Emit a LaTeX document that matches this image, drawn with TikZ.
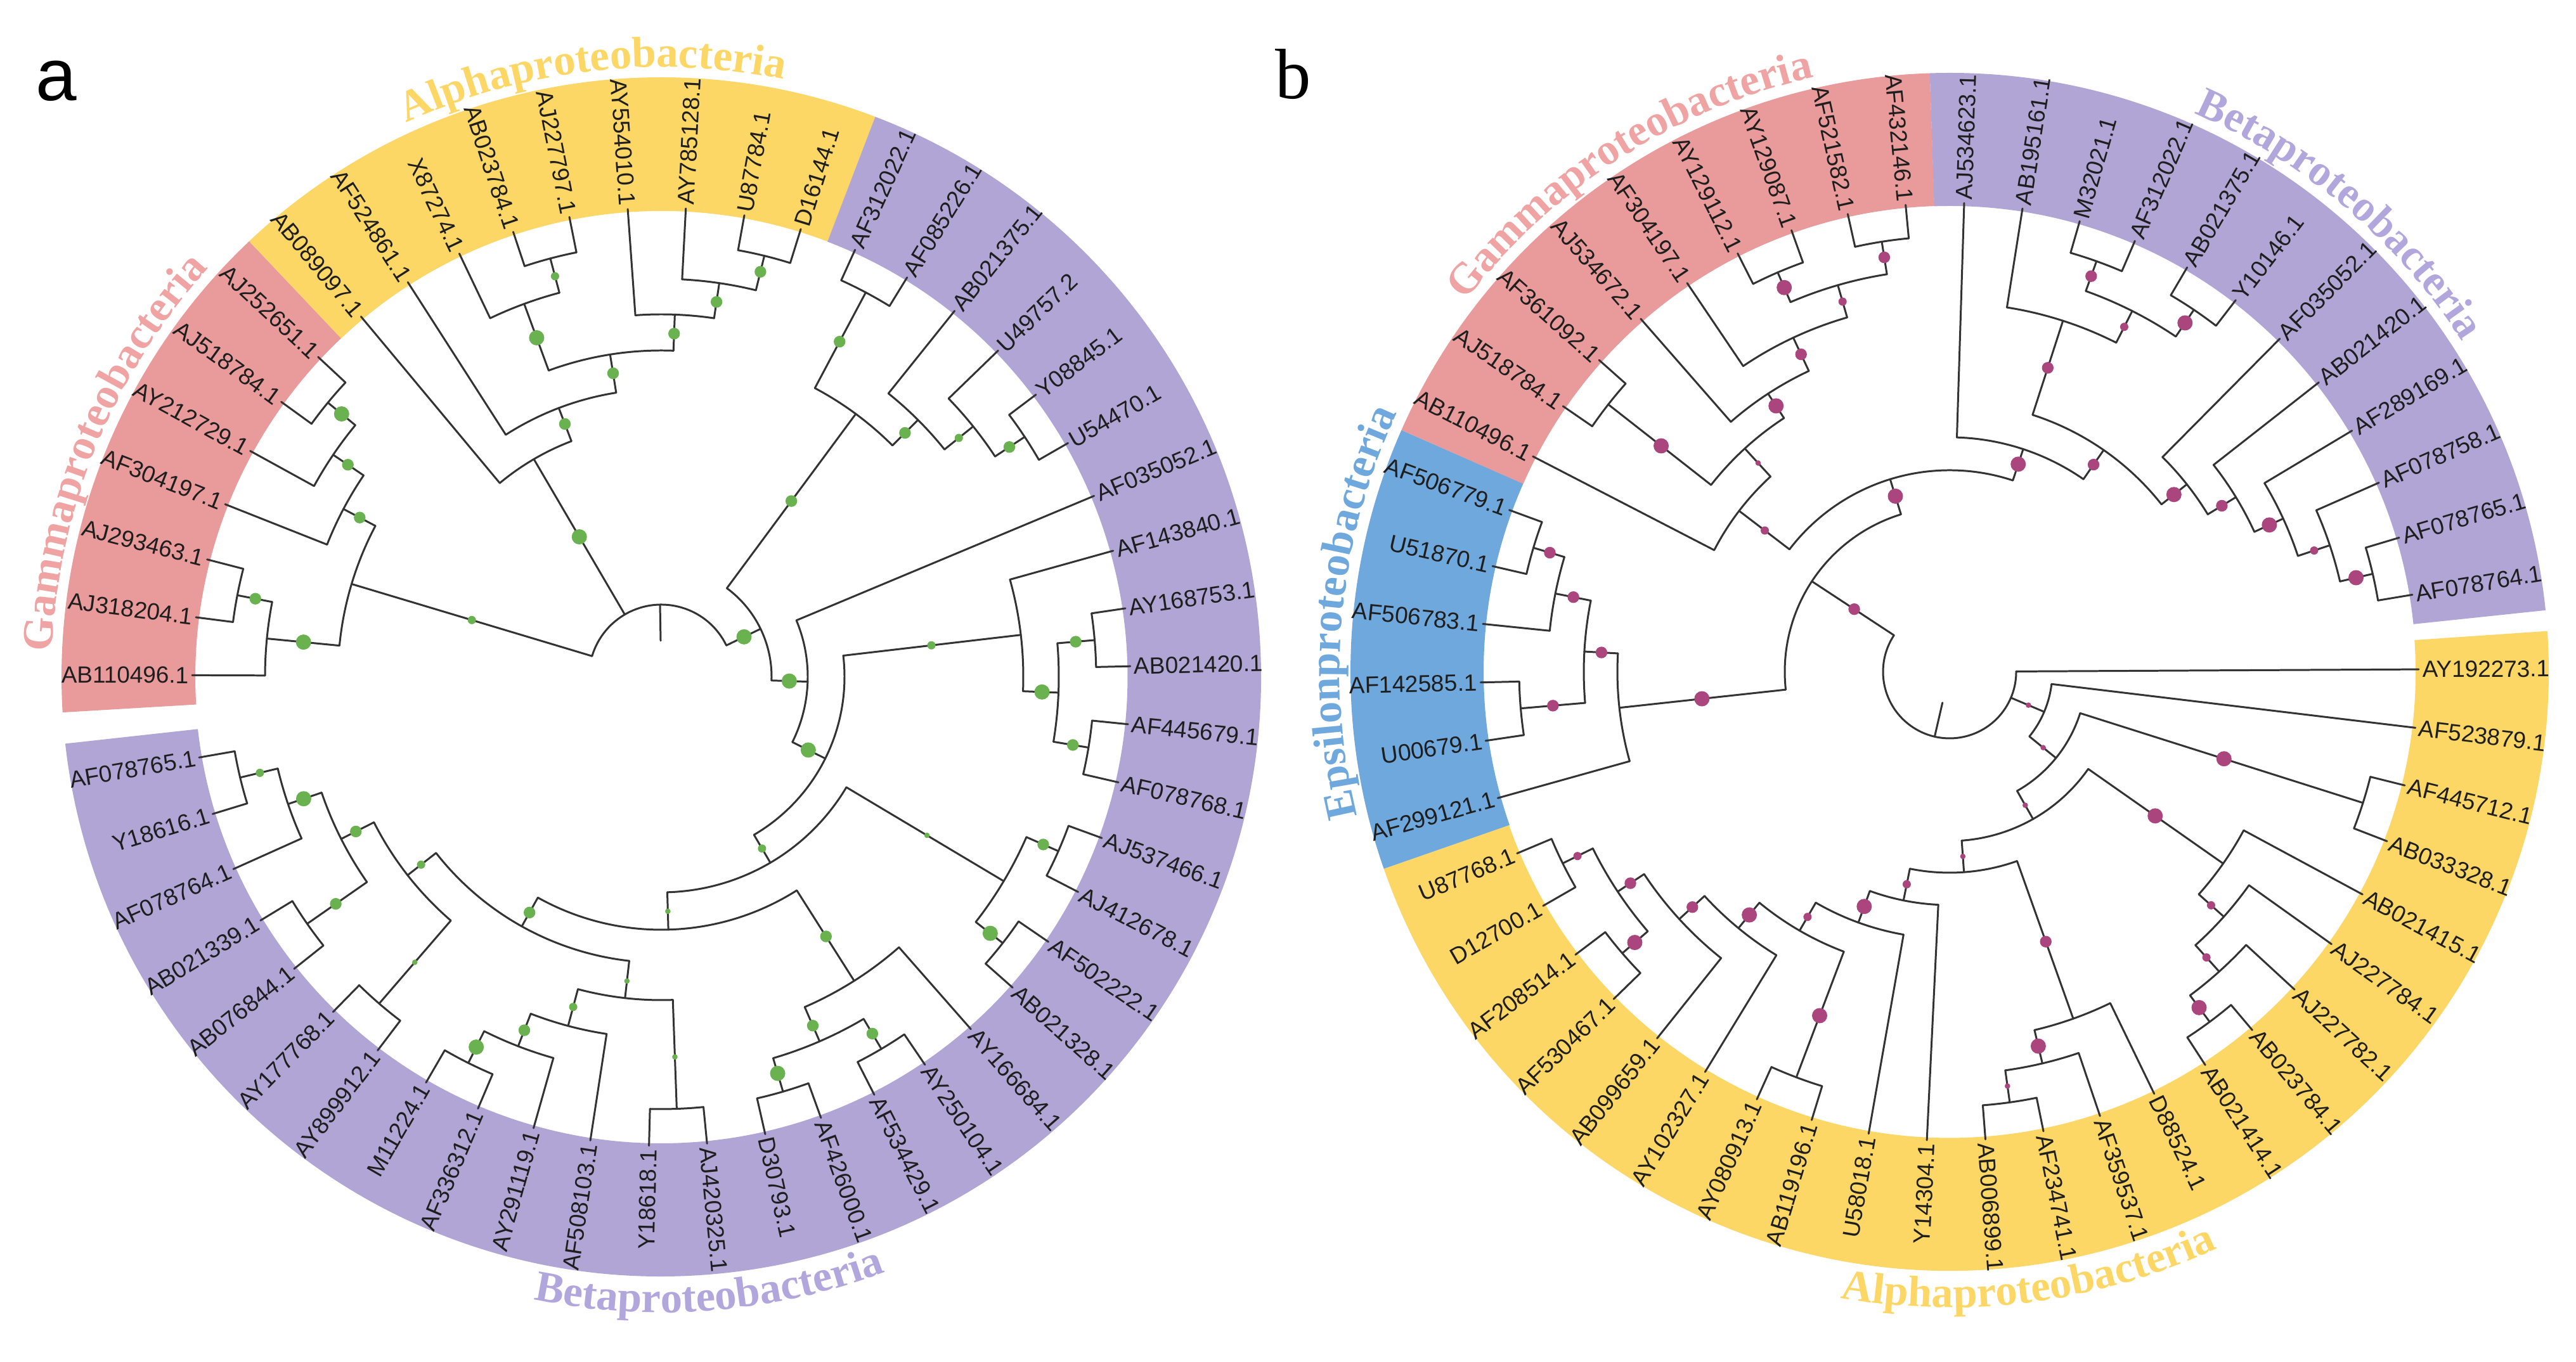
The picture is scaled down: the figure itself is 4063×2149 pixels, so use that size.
\documentclass[tikz,border=0pt]{standalone}
\usepackage{fontspec}
\setmainfont{Liberation Serif}
\setsansfont{Liberation Sans}
\usetikzlibrary{decorations.text}
\definecolor{lineC}{HTML}{333333}
\definecolor{labC}{HTML}{1E1E1E}
\definecolor{pinkB}{HTML}{E99A9A}
\definecolor{yelB}{HTML}{FDD766}
\definecolor{purB}{HTML}{B1A5D6}
\definecolor{bluB}{HTML}{6FA8DC}
\definecolor{pinkT}{HTML}{EFA3A3}
\definecolor{yelT}{HTML}{FDD766}
\definecolor{purT}{HTML}{B2A7DC}
\definecolor{bluT}{HTML}{6FA8DC}
\definecolor{greenD}{HTML}{6AB250}
\definecolor{magD}{HTML}{AA467D}
\colorlet{dotc}{greenD}
\def\dL{12}\def\dM{9.2}\def\dS{6.5}\def\dT{4.3}
\newcommand\tRad[3]{\draw[br] ({#1}:{#2}) -- ({#1}:{#3});}
\newcommand\tArc[3]{\draw[br] ({#2}:{#1}) arc[start angle={#2}, end angle={#3}, radius={#1*0.01cm}];}
\newcommand\tDot[3]{\fill[dotc] ({#1}:{#2}) circle[radius={#3*0.01cm}];}
\newcounter{lc}
\newcommand\tLeaf[3]{%
 \draw[br] ({#1}:{#2}) -- ({#1}:740);%
 \stepcounter{lc}%
 \pgfmathsetmacro\tmpc{cos(#1)}%
 \ifdim\tmpc pt>0pt
  \node[lab,anchor=west,rotate={#1}] (leaf\arabic{lc}) at ({#1}:745) {#3};%
 \else
  \node[lab,anchor=east,rotate={#1+180}] (leaf\arabic{lc}) at ({#1}:745) {#3};%
 \fi}
\newcommand\tBand[4]{\fill[#4] ({#1}:735) arc[start angle={#1}, end angle={#2}, radius=7.35cm] -- ({#2}:{#3}) arc[start angle={#2}, end angle={#1}, radius={#3*0.01cm}] -- cycle;}
\newcommand\cladefont{\fontsize{19.5}{22}\selectfont\bfseries}
\begin{document}
\begin{tikzpicture}[x=0.01cm,y=0.01cm,
  br/.style={draw=lineC,line width=0.85pt,line cap=round},
  lab/.style={font=\sffamily\fontsize{10.5}{12}\selectfont,text=labC,inner sep=0pt}]
\fill[white] (0,0) rectangle (4063,2149);
\useasboundingbox (0,0) rectangle (4063,2149);
\node[font=\sffamily\fontsize{33}{36}\selectfont,inner sep=0pt] (pa) at (89,2021) {a};
\node[font=\rmfamily\fontsize{32}{36}\selectfont,inner sep=0pt] (pb) at (2040,2032) {b};
% ================= TREE A =================
\begin{scope}[shift={(1043,1081)}]
\tBand{183.4}{133.4}{946}{pinkB}
\tBand{133.4}{69.1}{946}{yelB}
\tBand{69.1}{-173.6}{946}{purB}
\path[decorate,decoration={text along path,text align=center,text color=pinkT,text={|\cladefont|Gammaproteobacteria}}] (187.8:962) arc[start angle=187.8,end angle=127.8,radius=9.62cm];
\path[decorate,decoration={text along path,text align=center,text color=yelT,text={|\cladefont|Alphaproteobacteria}}] (126.6:962) arc[start angle=126.6,end angle=66.6,radius=9.62cm];
\path[decorate,decoration={text along path,text align=center,text color=purT,text={|\cladefont|Betaproteobacteria}}] (-120.5:1003) arc[start angle=-120.5,end angle=-50.5,radius=10.03cm];
% root
\tArc{114}{25.82}{163.3}
\tRad{91}{57}{114}
% gamma
\tRad{163.3}{114}{510}
\tArc{510}{152.15}{174.45}
\tRad{174.45}{510}{625}
\tArc{625}{169.1}{179.8}
\tLeaf{179.8}{625}{AB110496.1}
\tRad{169.1}{625}{681}
\tArc{681}{165.5}{172.7}
\tLeaf{172.7}{681}{AJ318204.1}
\tLeaf{165.5}{681}{AJ293463.1}
\tRad{152.15}{510}{567}
\tArc{567}{145.9}{158.4}
\tLeaf{158.4}{567}{AF304197.1}
\tRad{145.9}{567}{625}
\tArc{625}{140.55}{151.2}
\tLeaf{151.2}{625}{AY212729.1}
\tRad{140.55}{625}{681}
\tArc{681}{137.0}{144.1}
\tLeaf{144.1}{681}{AJ518784.1}
\tLeaf{137.0}{681}{AJ252651.1}
% alpha
\tRad{120.33}{114}{398}
\tArc{398}{110.86}{129.8}
\tLeaf{129.8}{398}{AB089097.1}
\tRad{110.86}{398}{454}
\tArc{454}{99.02}{122.7}
\tLeaf{122.7}{454}{AF524861.1}
\tRad{99.02}{454}{515}
\tArc{515}{87.86}{110.175}
\tRad{110.175}{515}{627}
\tArc{627}{104.85}{115.5}
\tLeaf{115.5}{627}{X87274.1}
\tRad{104.85}{627}{683}
\tArc{683}{101.3}{108.4}
\tLeaf{108.4}{683}{AB023784.1}
\tLeaf{101.3}{683}{AJ227797.1}
\tRad{87.86}{515}{572}
\tArc{572}{81.625}{94.1}
\tLeaf{94.1}{572}{AY554010.1}
\tRad{81.625}{572}{628}
\tArc{628}{76.25}{87.0}
\tLeaf{87.0}{628}{AY785128.1}
\tRad{76.25}{628}{684}
\tArc{684}{72.7}{79.8}
\tLeaf{79.8}{684}{U87784.1}
\tLeaf{72.7}{684}{D16144.1}
% beta
\tRad{25.82}{114}{174}
\tArc{174}{-1.885}{53.52}
\tRad{53.52}{174}{516}
\tArc{516}{45.04}{62.0}
\tRad{62.0}{516}{687}
\tArc{687}{58.4}{65.6}
\tLeaf{65.6}{687}{AF312022.1}
\tLeaf{58.4}{687}{AF085226.1}
\tRad{45.04}{516}{573}
\tArc{573}{38.775}{51.3}
\tLeaf{51.3}{573}{AB021375.1}
\tRad{38.775}{573}{631}
\tArc{631}{33.45}{44.1}
\tLeaf{44.1}{631}{U49757.2}
\tRad{33.45}{631}{687}
\tArc{687}{29.9}{37.0}
\tLeaf{37.0}{687}{Y08845.1}
\tLeaf{29.9}{687}{U54470.1}
\tRad{-1.885}{174}{231}
\tArc{231}{-26.47}{22.7}
\tLeaf{22.7}{231}{AF035052.1}
\tRad{-26.47}{231}{289}
\tArc{289}{-59.6}{6.66}
\tRad{6.66}{289}{571}
\tArc{571}{-2.275}{15.6}
\tLeaf{15.6}{571}{AF143840.1}
\tRad{-2.275}{571}{627}
\tArc{627}{-9.4}{4.85}
\tRad{4.85}{627}{686}
\tArc{686}{1.3}{8.4}
\tLeaf{8.4}{686}{AY168753.1}
\tLeaf{1.3}{686}{AB021420.1}
\tRad{-9.4}{627}{683}
\tArc{683}{-13.0}{-5.8}
\tLeaf{-5.8}{683}{AF445679.1}
\tLeaf{-13.0}{683}{AF078768.1}
\tRad{-59.6}{289}{340}
\tArc{340}{-88.4}{-30.825}
\tRad{-30.825}{340}{629}
\tArc{629}{-37.95}{-23.7}
\tRad{-23.7}{629}{684}
\tArc{684}{-27.3}{-20.1}
\tLeaf{-20.1}{684}{AJ537466.1}
\tLeaf{-27.3}{684}{AJ412678.1}
\tRad{-37.95}{629}{683}
\tArc{683}{-41.5}{-34.4}
\tLeaf{-34.4}{683}{AF502222.1}
\tLeaf{-41.5}{683}{AB021328.1}
\tRad{-88.4}{340}{399}
\tArc{399}{-119.2}{-57.61}
\tRad{-57.61}{399}{568}
\tArc{568}{-66.525}{-48.7}
\tLeaf{-48.7}{568}{AY166684.1}
\tRad{-66.525}{568}{627}
\tArc{627}{-73.65}{-59.4}
\tRad{-59.4}{627}{682}
\tArc{682}{-63.0}{-55.8}
\tLeaf{-55.8}{682}{AY250104.1}
\tLeaf{-63.0}{682}{AF534429.1}
\tRad{-73.65}{627}{682}
\tArc{682}{-77.2}{-70.1}
\tLeaf{-70.1}{682}{AF426000.1}
\tLeaf{-77.2}{682}{D30793.1}
\tRad{-119.2}{399}{451}
\tArc{451}{-141.97}{-96.44}
\tRad{-96.44}{451}{510}
\tArc{510}{-104.94}{-87.95}
\tRad{-87.95}{510}{682}
\tArc{682}{-91.5}{-84.4}
\tLeaf{-84.4}{682}{AJ420325.1}
\tLeaf{-91.5}{682}{Y18618.1}
\tRad{-104.94}{510}{570}
\tArc{570}{-111.175}{-98.7}
\tLeaf{-98.7}{570}{AF508103.1}
\tRad{-111.175}{570}{625}
\tArc{625}{-116.55}{-105.8}
\tLeaf{-105.8}{625}{AY291119.1}
\tRad{-116.55}{625}{681}
\tArc{681}{-120.1}{-113.0}
\tLeaf{-113.0}{681}{AF336312.1}
\tLeaf{-120.1}{681}{M11224.1}
\tRad{-141.97}{451}{508}
\tArc{508}{-153.14}{-130.8}
\tRad{-130.8}{508}{681}
\tArc{681}{-134.4}{-127.2}
\tLeaf{-127.2}{681}{AY899912.1}
\tLeaf{-134.4}{681}{AY177768.1}
\tRad{-153.14}{508}{566}
\tArc{566}{-161.175}{-145.1}
\tRad{-145.1}{566}{681}
\tArc{681}{-148.7}{-141.5}
\tLeaf{-141.5}{681}{AB076844.1}
\tLeaf{-148.7}{681}{AB021339.1}
\tRad{-161.175}{566}{622}
\tArc{622}{-166.55}{-155.8}
\tLeaf{-155.8}{622}{AF078764.1}
\tRad{-166.55}{622}{683}
\tArc{683}{-170.1}{-163.0}
\tLeaf{-163.0}{683}{Y18616.1}
\tLeaf{-170.1}{683}{AF078765.1}
% dots
\tDot{163.3}{312}{\dS}
\tDot{174.45}{567}{\dL}
\tDot{152.15}{538}{\dM}
\tDot{169.1}{652}{\dM}
\tDot{145.9}{597}{\dM}
\tDot{140.55}{653}{\dL}
\tDot{120.33}{256}{\dL}
\tDot{110.86}{427}{\dM}
\tDot{99.02}{485}{\dM}
\tDot{110.175}{570}{\dL}
\tDot{87.86}{542}{\dM}
\tDot{104.85}{654}{\dS}
\tDot{81.625}{598}{\dM}
\tDot{76.25}{658}{\dM}
\tDot{25.82}{145}{\dL}
\tDot{53.52}{345}{\dM}
\tDot{62.0}{599}{\dM}
\tDot{45.04}{544}{\dM}
\tDot{38.775}{602}{\dS}
\tDot{33.45}{658}{\dM}
\tDot{-1.885}{202}{\dL}
\tDot{-26.47}{259}{\dL}
\tDot{6.66}{429}{\dS}
\tDot{-2.275}{601}{\dL}
\tDot{4.85}{656}{\dM}
\tDot{-9.4}{658}{\dM}
\tDot{-59.6}{314}{\dS}
\tDot{-30.825}{488}{\dT}
\tDot{-23.7}{658}{\dM}
\tDot{-37.95}{658}{\dL}
\tDot{-88.4}{370}{\dT}
\tDot{-57.61}{485}{\dM}
\tDot{-66.525}{600}{\dM}
\tDot{-59.4}{654}{\dM}
\tDot{-73.65}{652}{\dL}
\tDot{-119.2}{426}{\dM}
\tDot{-96.44}{483}{\dT}
\tDot{-87.95}{600}{\dT}
\tDot{-104.94}{539}{\dS}
\tDot{-111.175}{598}{\dM}
\tDot{-116.55}{653}{\dL}
\tDot{-141.97}{481}{\dS}
\tDot{-130.8}{595}{\dT}
\tDot{-153.14}{540}{\dM}
\tDot{-161.175}{596}{\dL}
\tDot{-145.1}{626}{\dM}
\tDot{-166.55}{651}{\dS}
\end{scope}
% ================= TREE B =================
\begin{scope}[shift={(3075,1089)}]
\colorlet{dotc}{magD}
\tBand{3.9}{-160.8}{945}{yelB}
\tBand{-160.8}{-203.8}{945}{bluB}
\tBand{156.2}{91.9}{945}{pinkB}
\tBand{91.9}{5.9}{945}{purB}
\path[decorate,decoration={text along path,text align=center,text color=pinkT,text={|\cladefont|Gammaproteobacteria}}] (152.7:962) arc[start angle=152.7,end angle=92.7,radius=9.62cm];
\path[decorate,decoration={text along path,text align=center,text color=purT,text={|\cladefont|Betaproteobacteria}}] (79.6:962) arc[start angle=79.6,end angle=19.6,radius=9.62cm];
\path[decorate,decoration={text along path,text align=center,text color=bluT,text={|\cladefont|Epsilonproteobacteria}}] (204.3:962) arc[start angle=204.3,end angle=144.3,radius=9.62cm];
\path[decorate,decoration={text along path,text align=center,text color=yelT,text={|\cladefont|Alphaproteobacteria}}] (-117.5:1003) arc[start angle=-117.5,end angle=-47.5,radius=10.03cm];
% root
\tArc{105}{-213.31}{0.3}
\tRad{-103}{50}{105}
\tLeaf{0.3}{105}{AY192273.1}
\tRad{-22.95}{105}{162}
\tArc{162}{-39.035}{-6.86}
\tLeaf{-6.86}{162}{AF523879.1}
\tRad{-39.035}{162}{216}
\tArc{216}{-60.47}{-17.6}
\tRad{-17.6}{216}{684}
\tArc{684}{-21.18}{-14.02}
\tLeaf{-14.02}{684}{AF445712.1}
\tLeaf{-21.18}{684}{AB033328.1}
\tRad{-60.47}{216}{267}
\tArc{267}{-85.9}{-35.04}
\tRad{-35.04}{267}{527}
\tArc{527}{-41.775}{-28.34}
\tLeaf{-28.34}{527}{AB021415.1}
\tRad{-41.775}{527}{580}
\tArc{580}{-48.05}{-35.5}
\tLeaf{-35.5}{580}{AJ227784.1}
\tRad{-48.05}{580}{636}
\tArc{636}{-53.4}{-42.66}
\tLeaf{-42.66}{636}{AJ227782.1}
\tRad{-53.4}{636}{688}
\tArc{688}{-56.98}{-49.82}
\tLeaf{-49.82}{688}{AB023784.1}
\tLeaf{-56.98}{688}{AB021414.1}
\tRad{-85.9}{267}{317}
\tArc{317}{-101.4}{-70.39}
\tRad{-70.39}{317}{581}
\tArc{581}{-76.675}{-64.14}
\tLeaf{-64.14}{581}{D88524.1}
\tRad{-76.675}{581}{635}
\tArc{635}{-82.05}{-71.3}
\tLeaf{-71.3}{635}{AF359537.1}
\tRad{-82.05}{635}{686}
\tArc{686}{-85.62}{-78.46}
\tLeaf{-78.46}{686}{AF234741.1}
\tLeaf{-85.62}{686}{AB006899.1}
\tRad{-101.4}{317}{368}
\tArc{368}{-109.99}{-92.78}
\tLeaf{-92.78}{368}{Y14304.1}
\tRad{-109.99}{368}{421}
\tArc{421}{-120.09}{-99.94}
\tLeaf{-99.94}{421}{U58018.1}
\tRad{-120.09}{421}{472}
\tArc{472}{-129.47}{-110.7}
\tRad{-110.7}{472}{684}
\tArc{684}{-114.26}{-107.1}
\tLeaf{-107.1}{684}{AB119196.1}
\tLeaf{-114.26}{684}{AY080913.1}
\tRad{-129.47}{472}{524}
\tArc{524}{-137.54}{-121.42}
\tLeaf{-121.42}{524}{AY102327.1}
\tRad{-137.54}{524}{578}
\tArc{578}{-146.475}{-128.58}
\tLeaf{-128.58}{578}{AB099659.1}
\tRad{-146.475}{578}{628}
\tArc{628}{-153.65}{-139.3}
\tRad{-139.3}{628}{681}
\tArc{681}{-142.9}{-135.74}
\tLeaf{-135.74}{681}{AF530467.1}
\tLeaf{-142.9}{681}{AF208514.1}
\tRad{-153.65}{628}{681}
\tArc{681}{-157.22}{-150.06}
\tLeaf{-150.06}{681}{D12700.1}
\tLeaf{-157.22}{681}{U87768.1}
% epsilon / gamma / beta group
\tRad{146.69}{105}{260}
\tArc{260}{107.155}{186.22}
\tRad{186.22}{260}{524}
\tArc{524}{176.825}{195.62}
\tLeaf{195.62}{524}{AF299121.1}
\tRad{176.825}{524}{577}
\tArc{577}{168.77}{184.88}
\tRad{184.88}{577}{679}
\tArc{679}{181.3}{188.46}
\tLeaf{188.46}{679}{U00679.1}
\tLeaf{181.3}{679}{AF142585.1}
\tRad{168.77}{577}{634}
\tArc{634}{163.4}{174.14}
\tLeaf{174.14}{634}{AF506783.1}
\tRad{163.4}{634}{685}
\tArc{685}{159.82}{166.98}
\tLeaf{166.98}{685}{U51870.1}
\tLeaf{159.82}{685}{AF506779.1}
\tRad{107.155}{260}{318}
\tArc{318}{71.72}{142.59}
\tRad{142.59}{318}{418}
\tArc{418}{132.52}{152.66}
\tLeaf{152.66}{418}{AB110496.1}
\tRad{132.52}{418}{478}
\tArc{478}{123.125}{141.92}
\tRad{141.92}{478}{684}
\tArc{684}{138.34}{145.5}
\tLeaf{145.5}{684}{AJ518784.1}
\tLeaf{138.34}{684}{AF361092.1}
\tRad{123.125}{478}{524}
\tArc{524}{115.07}{131.18}
\tLeaf{131.18}{524}{AJ534672.1}
\tRad{115.07}{524}{582}
\tArc{582}{106.12}{124.02}
\tLeaf{124.02}{582}{AF304197.1}
\tRad{106.12}{582}{635}
\tArc{635}{98.96}{113.28}
\tRad{113.28}{635}{686}
\tArc{686}{109.7}{116.86}
\tLeaf{116.86}{686}{AY129112.1}
\tLeaf{109.7}{686}{AY129087.1}
\tRad{98.96}{635}{687}
\tArc{687}{95.38}{102.54}
\tLeaf{102.54}{687}{AF521582.1}
\tLeaf{95.38}{687}{AF432146.1}
\tRad{71.72}{318}{370}
\tArc{370}{55.22}{88.22}
\tLeaf{88.22}{370}{AJ534623.1}
\tRad{55.22}{370}{426}
\tArc{426}{38.325}{72.11}
\tRad{72.11}{426}{582}
\tArc{582}{63.16}{81.06}
\tLeaf{81.06}{582}{AB195161.1}
\tRad{63.16}{582}{638}
\tArc{638}{56.0}{70.32}
\tRad{70.32}{638}{688}
\tArc{688}{66.74}{73.9}
\tLeaf{73.9}{688}{M32021.1}
\tLeaf{66.74}{688}{AF312022.1}
\tRad{56.0}{638}{689}
\tArc{689}{52.42}{59.58}
\tLeaf{59.58}{689}{AB021375.1}
\tLeaf{52.42}{689}{Y10146.1}
\tRad{38.325}{426}{477}
\tArc{477}{31.39}{45.26}
\tLeaf{45.26}{477}{AF035052.1}
\tRad{31.39}{477}{529}
\tArc{529}{24.675}{38.1}
\tLeaf{38.1}{529}{AB021420.1}
\tRad{24.675}{529}{579}
\tArc{579}{18.41}{30.94}
\tLeaf{30.94}{579}{AF289169.1}
\tRad{18.41}{579}{632}
\tArc{632}{13.04}{23.78}
\tLeaf{23.78}{632}{AF078758.1}
\tRad{13.04}{632}{685}
\tArc{685}{9.46}{16.62}
\tLeaf{16.62}{685}{AF078765.1}
\tLeaf{9.46}{685}{AF078764.1}
% dots
\tDot{-22.95}{135}{\dT}
\tDot{-39.035}{190}{\dT}
\tDot{-17.6}{454}{\dL}
\tDot{-60.47}{242}{\dT}
\tDot{-35.04}{396}{\dL}
\tDot{-41.775}{553}{\dS}
\tDot{-48.05}{606}{\dS}
\tDot{-53.4}{660}{\dL}
\tDot{-85.9}{292}{\dT}
\tDot{-70.39}{452}{\dM}
\tDot{-76.675}{607}{\dL}
\tDot{-82.05}{660}{\dT}
\tDot{-101.4}{342}{\dS}
\tDot{-109.99}{394}{\dL}
\tDot{-120.09}{447}{\dS}
\tDot{-110.7}{580}{\dL}
\tDot{-129.47}{497}{\dL}
\tDot{-137.54}{550}{\dM}
\tDot{-146.475}{604}{\dM}
\tDot{-139.3}{655}{\dL}
\tDot{-153.65}{655}{\dS}
\tDot{146.69}{180}{\dM}
\tDot{186.22}{393}{\dL}
\tDot{176.825}{550}{\dM}
\tDot{184.88}{628}{\dM}
\tDot{168.77}{605}{\dM}
\tDot{163.4}{658}{\dM}
\tDot{107.155}{290}{\dL}
\tDot{142.59}{367}{\dS}
\tDot{132.52}{447}{\dT}
\tDot{141.92}{578}{\dL}
\tDot{123.125}{501}{\dL}
\tDot{115.07}{553}{\dM}
\tDot{106.12}{608}{\dS}
\tDot{113.28}{660}{\dL}
\tDot{98.96}{662}{\dM}
\tDot{71.72}{345}{\dL}
\tDot{55.22}{398}{\dM}
\tDot{72.11}{504}{\dM}
\tDot{63.16}{610}{\dS}
\tDot{70.32}{663}{\dM}
\tDot{56.0}{664}{\dL}
\tDot{38.325}{451}{\dL}
\tDot{31.39}{503}{\dM}
\tDot{24.675}{555}{\dL}
\tDot{18.41}{606}{\dS}
\tDot{13.04}{658}{\dL}
\end{scope}
\end{tikzpicture}
\end{document}
